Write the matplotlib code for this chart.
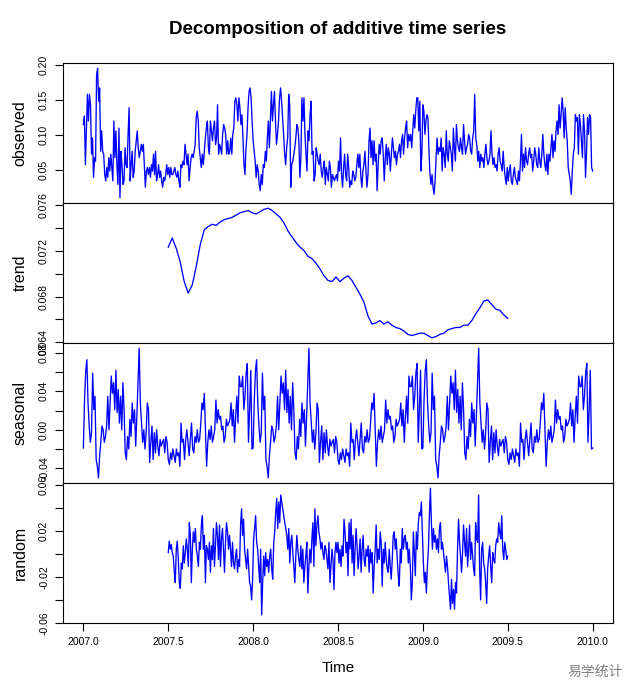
import numpy as np
import matplotlib
matplotlib.use("Agg")
import matplotlib.pyplot as plt

plt.rcParams['font.family'] = ['Liberation Sans', 'DejaVu Sans']

# ---- data ----
start_year = 2007.0
end_year = 2010.0

observed = [
    0.115, 0.127, 0.058, 0.106, 0.158, 0.120, 0.158, 0.143, 0.073, 0.096, 0.040, 0.068, 0.063, 0.186, 0.195,
    0.148, 0.167, 0.077, 0.106, 0.077, 0.073, 0.044, 0.035, 0.054, 0.040, 0.068, 0.049, 0.073, 0.054, 0.035,
    0.120, 0.068, 0.106, 0.058, 0.030, 0.110, 0.011, 0.077, 0.058, 0.030, 0.035, 0.082, 0.058, 0.054, 0.101,
    0.139, 0.035, 0.058, 0.077, 0.040, 0.049, 0.077, 0.092, 0.106, 0.082, 0.068, 0.077, 0.087, 0.077, 0.087,
    0.058, 0.026, 0.049, 0.054, 0.044, 0.054, 0.040, 0.058, 0.049, 0.073, 0.044, 0.077, 0.035, 0.044, 0.058,
    0.040, 0.049, 0.035, 0.026, 0.040, 0.035, 0.044, 0.058, 0.044, 0.054, 0.040, 0.054, 0.044, 0.044, 0.049,
    0.054, 0.044, 0.040, 0.049, 0.035, 0.026, 0.058, 0.054, 0.063, 0.058, 0.087, 0.073, 0.058, 0.073, 0.035,
    0.054, 0.068, 0.073, 0.068, 0.077, 0.087, 0.125, 0.134, 0.120, 0.082, 0.068, 0.054, 0.073, 0.058, 0.077,
    0.096, 0.110, 0.120, 0.082, 0.073, 0.120, 0.106, 0.092, 0.110, 0.120, 0.087, 0.096, 0.143, 0.073, 0.087,
    0.082, 0.073, 0.101, 0.115, 0.110, 0.101, 0.073, 0.092, 0.073, 0.077, 0.096, 0.073, 0.101, 0.110, 0.148,
    0.153, 0.143, 0.120, 0.153, 0.139, 0.115, 0.129, 0.096, 0.058, 0.044, 0.082, 0.101, 0.139, 0.162, 0.167,
    0.153, 0.120, 0.092, 0.077, 0.063, 0.040, 0.058, 0.049, 0.030, 0.021, 0.044, 0.030, 0.058, 0.054, 0.077,
    0.063, 0.096, 0.120, 0.082, 0.120, 0.162, 0.120, 0.143, 0.162, 0.120, 0.087, 0.101, 0.120, 0.153, 0.167,
    0.148, 0.125, 0.101, 0.073, 0.058, 0.082, 0.096, 0.158, 0.143, 0.026, 0.058, 0.063, 0.073, 0.082, 0.096,
    0.115, 0.110, 0.092, 0.040, 0.068, 0.153, 0.120, 0.153, 0.101, 0.073, 0.049, 0.106, 0.092, 0.129, 0.148,
    0.073, 0.077, 0.035, 0.044, 0.082, 0.073, 0.063, 0.058, 0.073, 0.049, 0.040, 0.054, 0.063, 0.030, 0.054,
    0.044, 0.035, 0.063, 0.054, 0.026, 0.044, 0.040, 0.035, 0.040, 0.044, 0.035, 0.063, 0.049, 0.096, 0.044,
    0.026, 0.054, 0.073,
    0.044, 0.035, 0.073, 0.054, 0.026, 0.035, 0.030, 0.049, 0.044, 0.035, 0.040, 0.058, 0.073, 0.054, 0.073,
    0.040, 0.026, 0.049, 0.058, 0.077, 0.049, 0.026, 0.044, 0.092, 0.110, 0.068, 0.092, 0.058, 0.092, 0.063,
    0.073, 0.021, 0.058, 0.087, 0.073, 0.092, 0.096, 0.073, 0.035, 0.068, 0.087, 0.058, 0.082, 0.073, 0.049,
    0.073, 0.096, 0.082, 0.068, 0.077, 0.058, 0.073, 0.077, 0.087, 0.068, 0.092, 0.101, 0.073, 0.096, 0.110,
    0.120, 0.082, 0.101, 0.092, 0.101, 0.082, 0.106, 0.129, 0.110, 0.134, 0.153, 0.153, 0.106, 0.148, 0.049,
    0.073, 0.143, 0.134, 0.101, 0.120, 0.129, 0.125, 0.077, 0.044, 0.030, 0.044, 0.026, 0.016, 0.035, 0.068,
    0.096, 0.073, 0.082, 0.077, 0.096, 0.049, 0.082, 0.073, 0.054, 0.106, 0.073, 0.063, 0.092, 0.082, 0.073,
    0.049, 0.110, 0.082, 0.063, 0.115, 0.092, 0.082, 0.077, 0.096, 0.082, 0.073, 0.115, 0.092, 0.073, 0.082,
    0.087, 0.101, 0.096, 0.077, 0.073, 0.096, 0.106, 0.158, 0.096, 0.087, 0.063, 0.077, 0.054, 0.073, 0.063,
    0.068, 0.054, 0.073, 0.087, 0.068, 0.058, 0.063, 0.073, 0.106, 0.073, 0.058, 0.068, 0.054, 0.058, 0.049,
    0.073, 0.082, 0.063, 0.058, 0.049, 0.077, 0.054, 0.040, 0.030, 0.054, 0.035, 0.049, 0.058, 0.035, 0.030,
    0.044, 0.054, 0.040, 0.035, 0.030, 0.049, 0.035, 0.063, 0.101, 0.049, 0.073, 0.054, 0.082, 0.063, 0.058,
    0.073, 0.082, 0.068, 0.073, 0.049, 0.063, 0.082, 0.073, 0.058, 0.054, 0.082, 0.063, 0.054, 0.073, 0.101,
    0.073, 0.058, 0.049, 0.073, 0.044, 0.073, 0.063, 0.082, 0.101, 0.068, 0.092, 0.077, 0.106, 0.120, 0.101,
    0.143, 0.110, 0.129, 0.153, 0.134, 0.096, 0.139, 0.110, 0.092, 0.054, 0.044, 0.035, 0.016, 0.049, 0.073,
    0.082, 0.129, 0.120, 0.125, 0.073, 0.129, 0.115, 0.092, 0.068, 0.129, 0.106, 0.040, 0.077, 0.125, 0.101,
    0.129, 0.125, 0.054, 0.049,
]

trend = [
    0.0723, 0.0731, 0.0722, 0.0710, 0.0693, 0.0683, 0.0690, 0.0706, 0.0725, 0.0738, 0.0741, 0.0743,
    0.0742, 0.0745, 0.0747, 0.0748, 0.0749, 0.0751, 0.0753, 0.0754, 0.0755, 0.0753, 0.0752, 0.0754,
    0.0756, 0.0757, 0.0755, 0.0752, 0.0749, 0.0744, 0.0737, 0.0732, 0.0727, 0.0723, 0.0720, 0.0715,
    0.0713, 0.0709, 0.0704, 0.0698, 0.0694, 0.0693, 0.0697, 0.0693, 0.0696, 0.0698, 0.0694, 0.0688,
    0.0682, 0.0675, 0.0663, 0.0656, 0.0657, 0.0659, 0.0656, 0.0658, 0.0655, 0.0653, 0.0652, 0.0650,
    0.0647, 0.0646, 0.0647, 0.0648, 0.0648, 0.0646, 0.0644, 0.0645, 0.0647, 0.0648, 0.0651, 0.0652,
    0.0653, 0.0653, 0.0655, 0.0655, 0.0659, 0.0665, 0.0670, 0.0676, 0.0677, 0.0673, 0.0669, 0.0668,
    0.0664, 0.0661,
]
trend_start, trend_end = 2007.5, 2009.5

# one year of the seasonal figure (it repeats every year)
seasonal_year = [
    -0.019, 0.031, 0.061, 0.073, 0.028, 0.004, -0.013, -0.003, 0.059, 0.021, 0.035, -0.031, -0.038,
    -0.050, -0.027, -0.013, 0.004, 0.000, -0.013, -0.007, 0.004, 0.035, 0.000, 0.028, 0.056, 0.038,
    0.049, 0.021, 0.062, 0.018, 0.042, 0.007, 0.035, 0.000, 0.049, 0.021, -0.024, -0.031, -0.007,
    -0.020, 0.011, -0.007, 0.028, 0.007, 0.021, -0.017, 0.014, 0.049, 0.085, 0.028, 0.007, -0.013,
    0.000, -0.020, -0.003, 0.028, 0.021, -0.034, -0.013, 0.004, -0.031, -0.003, -0.024, 0.000, -0.017,
    -0.027, -0.010, -0.017, -0.013, -0.010, -0.024, -0.007, -0.013, -0.031, -0.036, -0.024, -0.031,
    -0.020, -0.027, -0.034, -0.020, -0.027, -0.024, -0.038, 0.007, -0.013, -0.010, -0.031, -0.010,
    0.000, -0.013, -0.027, -0.010, 0.007, -0.020, -0.024, -0.007, -0.013, 0.000, -0.013, -0.010, 0.007,
    0.028, 0.021, 0.038, 0.000, -0.038, -0.013, 0.000, -0.010, 0.004, -0.013, -0.007, 0.000, 0.031,
    0.007, 0.021, 0.011, 0.014, 0.000, 0.004, -0.013, -0.007, 0.011, 0.004, 0.007, 0.011, 0.028, 0.004,
    0.021, -0.013, 0.014, 0.035, 0.007, 0.056, 0.045, 0.045, 0.056, 0.021, 0.035, 0.059, 0.069, -0.013,
    0.021, 0.062, -0.020,
]
n_years = 3

random = [
    0.001, 0.011, 0.004, 0.008, 0.001, -0.002, -0.016, -0.025, 0.004, 0.011, -0.005, -0.025, -0.030,
    -0.008, -0.013, 0.007, -0.008, 0.001, 0.013, 0.004, -0.011, 0.027, 0.016, -0.025, 0.004, 0.019,
    0.010, 0.022, 0.004, -0.002, -0.011, 0.010, 0.004, 0.025, 0.033, 0.004, 0.016, -0.025, 0.007,
    0.004, -0.005, 0.010, -0.016, 0.007, -0.005, 0.022, -0.011, 0.007, 0.027, 0.016, -0.005, 0.025,
    -0.011, 0.013, 0.022, 0.004, -0.016, 0.010, 0.027, 0.019, 0.004, 0.016, 0.004, -0.011, 0.010,
    -0.008, -0.013, -0.002, 0.004, -0.016, -0.005, -0.011, 0.025, 0.039, 0.016, 0.030, 0.004, -0.005,
    -0.013, 0.004, -0.011, -0.025, -0.028, -0.040, -0.022, 0.013, 0.022, 0.033, 0.010, 0.004, -0.011,
    -0.025, 0.004, -0.053, -0.025, -0.002, -0.019, 0.001, -0.011, -0.005, -0.016, -0.002, 0.004,
    -0.013, -0.022, 0.010, 0.019, 0.036, 0.048, 0.022, 0.045, 0.027, 0.051, 0.045, 0.039, 0.033,
    0.027, 0.022, 0.016, 0.004, 0.022, -0.008, 0.010, 0.016, 0.001, -0.011, -0.025, -0.002, 0.016,
    0.004, -0.005, -0.011, 0.007, -0.013, 0.004, -0.025, -0.011, -0.002, 0.010, -0.034, -0.011, 0.004,
    -0.008, 0.013, 0.027, -0.011, 0.039, 0.007, 0.025, 0.033, 0.019, 0.013, 0.004, 0.010, 0.001,
    -0.005, 0.007, 0.004, -0.005, -0.013, 0.010, -0.025, -0.011, 0.004, -0.005, -0.031, 0.001, 0.010,
    0.001, 0.010, -0.008, 0.004, -0.011, 0.007, -0.002, 0.030, 0.019, 0.001, 0.010, -0.019, 0.027,
    0.004, 0.030, -0.008, 0.016, -0.019, 0.004, 0.022, 0.007, -0.013, -0.002, 0.013, -0.016, 0.004,
    0.016, -0.005, -0.011, 0.004, -0.002, 0.007, -0.016, 0.004, -0.008, 0.001, -0.034, -0.011, 0.004,
    0.025, -0.008, 0.004, -0.005, 0.019, 0.010, -0.028, 0.004, -0.008, 0.010, -0.005, -0.013, -0.016,
    0.004, -0.011, -0.022, -0.005, 0.016, 0.019, 0.004, 0.013, -0.005, -0.019, -0.028, 0.004, -0.008,
    0.022, 0.004, 0.013, 0.016, 0.004, 0.010, -0.008, 0.004, -0.011, -0.040, -0.025, 0.019, 0.001,
    -0.019, 0.019, 0.004, 0.027, 0.036, 0.033, 0.045, 0.019, -0.008, -0.025, -0.016, -0.034, -0.011,
    0.004, 0.033, 0.057, 0.027, 0.004, 0.022, 0.010, 0.016, 0.004, 0.013, 0.001, 0.022, 0.027, 0.004,
    0.010, 0.001, -0.008, -0.016, -0.002, -0.011, -0.025, -0.037, -0.048, -0.022, -0.043, -0.031,
    -0.048, -0.025, -0.034, 0.004, 0.030, 0.010, -0.002, -0.016, 0.001, 0.025, 0.010, -0.002, 0.022,
    -0.011, 0.004, 0.025, -0.005, 0.010, -0.002, -0.013, -0.019, 0.027, 0.013, 0.010, 0.051, -0.013,
    -0.040, 0.004, 0.010, -0.008, -0.013, -0.025, -0.043, -0.013, -0.002, 0.007, -0.011, -0.025,
    0.001, -0.005, -0.008, 0.007, 0.013, 0.010, 0.027, 0.019, 0.013, 0.033, 0.004, -0.005, 0.010,
    0.004, -0.005, -0.002,
]
random_start, random_end = 2007.5, 2009.5

panel_names = ["observed", "trend", "seasonal", "random"]
ytick_sets = [
    ([0.05, 0.10, 0.15, 0.20], ["0.05", "0.10", "0.15", "0.20"]),
    ([0.064, 0.066, 0.068, 0.070, 0.072, 0.074, 0.076],
     ["0.064", "", "0.068", "", "0.072", "", "0.076"]),
    ([-0.04, -0.02, 0.00, 0.02, 0.04, 0.06, 0.08],
     ["-0.04", "", "0.00", "", "0.04", "", "0.08"]),
    ([-0.06, -0.04, -0.02, 0.00, 0.02, 0.04, 0.06],
     ["-0.06", "", "-0.02", "", "0.02", "", "0.06"]),
]
xticks = [2007.0, 2007.5, 2008.0, 2008.5, 2009.0, 2009.5, 2010.0]
xticklabels = ["2007.0", "2007.5", "2008.0", "2008.5", "2009.0", "2009.5", "2010.0"]

# ---- build series ----
seasonal = seasonal_year * n_years + seasonal_year[:1]
t_obs = np.linspace(start_year, end_year, len(observed))
t_seas = np.linspace(start_year, end_year, len(seasonal))
t_trend = np.linspace(trend_start, trend_end, len(trend))
t_rand = np.linspace(random_start, random_end, len(random))
series = [(t_obs, observed), (t_trend, trend), (t_seas, seasonal), (t_rand, random)]

fig = plt.figure(figsize=(6.4, 7), dpi=100)
axes = fig.subplots(4, 1, sharex=True)
fig.subplots_adjust(left=63/640, right=613/640, top=1-63/700, bottom=1-623/700, hspace=0)

for ax, (t, y), name, (yt, ytl) in zip(axes, series, panel_names, ytick_sets):
    ax.plot(t, y, color="#0000FF", lw=0.95)
    lo, hi = min(y), max(y)
    pad = (hi - lo) * 0.04
    ax.set_ylim(lo - pad, hi + pad)
    ax.set_yticks(yt)
    ax.set_yticklabels(ytl, rotation=90, va="center")
    ax.tick_params(axis="y", direction="out", length=6, width=0.8, pad=4, labelsize=7.5)
    ax.set_ylabel(name, fontsize=11.5)
    ax.yaxis.set_label_coords(-0.064, 0.5)
    for sp in ax.spines.values():
        sp.set_linewidth(0.8)
    ax.tick_params(axis="x", bottom=False, labelbottom=False)

span = end_year - start_year
axes[0].set_xlim(start_year - 0.04 * span, end_year + 0.04 * span)
axb = axes[-1]
axb.set_xticks(xticks)
axb.set_xticklabels(xticklabels)
axb.tick_params(axis="x", bottom=True, labelbottom=True, direction="out", length=6,
                width=0.8, pad=4, labelsize=7.5)
axb.set_xlabel("Time", fontsize=11)
axb.xaxis.set_label_coords(0.5, -0.27)

fig.text(0.528, 1 - 29/700, "Decomposition of additive time series",
         fontsize=13.5, fontweight="bold", ha="center", va="center")
fig.text(567/640, 1 - 672/700, "易学统计", fontsize=10, color="#808080",
         ha="left", va="center", family=["Noto Sans CJK SC", "DejaVu Sans"])

fig.savefig("out.png", dpi=100)
